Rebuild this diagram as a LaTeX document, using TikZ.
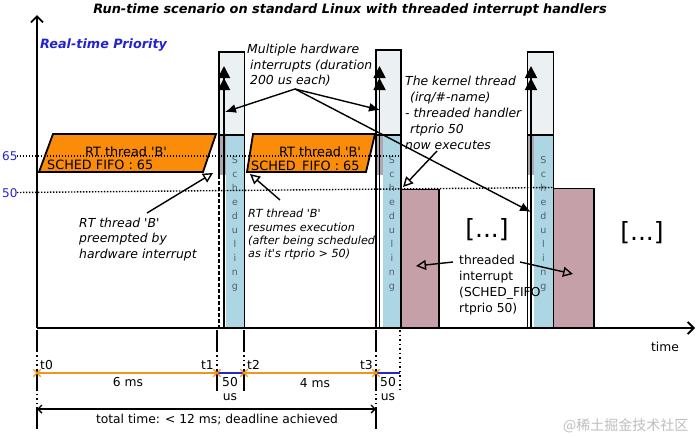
\documentclass[tikz,border=0pt]{standalone}
\usepackage{fontspec}
\setmainfont{DejaVu Sans}
\newfontfamily\cjkfont{Noto Sans CJK SC}
\usetikzlibrary{arrows.meta,shapes.misc}
\definecolor{orng}{RGB}{250,140,10}
\definecolor{schedblue}{RGB}{173,214,229}
\definecolor{stip}{RGB}{235,240,242}
\definecolor{hwgray}{RGB}{176,168,176}
\definecolor{pinkish}{RGB}{198,160,168}
\definecolor{prioblue}{RGB}{35,35,210}
\definecolor{tlorange}{RGB}{240,150,30}
\definecolor{tlblue}{RGB}{40,40,200}
\definecolor{schedtext}{RGB}{85,95,105}
\definecolor{wm}{RGB}{190,190,190}
\tikzset{
  lbl/.style={inner sep=0pt, font=\fontsize{12.3}{14}\selectfont},
  blbl/.style={inner sep=0pt, font=\fontsize{12.8}{14}\selectfont},
  ilbl/.style={inner sep=0pt, font=\fontsize{12.4}{14}\selectfont\itshape},
  slbl/.style={inner sep=0pt, font=\fontsize{11.2}{13}\selectfont\itshape},
  boxline/.style={line width=1.8pt},
  fillarrow/.style={line width=1.4pt, -{Latex[length=11pt,width=9pt]}},
  openarrow/.style={line width=1.4pt, -{Triangle[open,length=10pt,width=10pt]}},
  hwarrow/.style={line width=1.8pt, -{Triangle[length=12pt,width=12pt]Triangle[length=12pt,width=12pt]}},
  axisline/.style={line width=1.8pt, -{Straight Barb[length=6pt,width=12pt]}},
  prioline/.style={line width=1.4pt, dash pattern=on 1.4pt off 1.6pt},
  tickline/.style={line width=1.6pt, dash pattern=on 22pt off 3pt on 1.5pt off 3pt on 1.5pt off 3pt on 1.5pt off 3pt},
  schedtxt/.style={inner sep=0pt, align=center, text=schedtext, font=\fontsize{9.5}{14}\selectfont},
  prio/.style={inner sep=0pt, text=prioblue, font=\fontsize{12}{14}\selectfont},
  xmark/.style={draw=tlorange, cross out, minimum size=6pt, inner sep=0pt, line width=1.3pt},
}
\begin{document}
\begin{tikzpicture}[x=1pt,y=-1pt]
\useasboundingbox (0,0) rectangle (698,437);

% title
\node[anchor=base, inner sep=0pt, font=\fontsize{12.9}{14}\selectfont\bfseries\itshape] (title) at (350,13) {Run-time scenario on standard Linux with threaded interrupt handlers};
\node[anchor=base west, inner sep=0pt, text=prioblue, font=\fontsize{12.8}{14}\selectfont\bfseries\itshape] (rtp) at (40,48) {Real-time Priority};
\node[prio, anchor=base west] (p65) at (2,160) {65};
\node[prio, anchor=base west] (p50) at (2,197) {50};

% RT thread B (orange parallelograms)
\draw[boxline, fill=orng] (39,172) -- (203,172) -- (216,134) -- (53,134) -- cycle;
\draw[boxline, fill=orng] (247,172) -- (366,172) -- (375,134) -- (253,134) -- cycle;
\node[blbl, anchor=base] (rtb1) at (126,156) {RT thread \textquotesingle B\textquotesingle};
\node[blbl, anchor=base west] (sf1) at (47,169) {SCHED FIFO : 65};
\node[blbl, anchor=base] (rtb2) at (320,156) {RT thread \textquotesingle B\textquotesingle};
\node[blbl, anchor=base west] (sf2) at (251,170) {SCHED\_FIFO : 65};

% Multiple hardware text
\node[ilbl, anchor=base west] (mh1) at (247,53) {Multiple hardware};
\node[ilbl, anchor=base west] (mh2) at (250,69) {interrupts (duration};
\node[ilbl, anchor=base west] (mh3) at (250,84) {200 us each)};

% pink threaded handler boxes
\draw[boxline, fill=pinkish] (401,189.5) rectangle (439,328);
\draw[boxline, fill=pinkish] (553.5,188.5) rectangle (594,328);

% interrupt bars
\foreach \L/\A/\B/\R/\T/\n in {219/224/225.5/244.5/52/1, 376/379.5/383/401/50/2, 527.5/531/533.5/553.5/52/3}{
  \fill[stip] (\L,\T) rectangle (\R,135);
  \fill[hwgray] (\L,135) rectangle (\B,175);
  \fill[schedblue] (\B,135) rectangle (\R,328);
  \draw[boxline] (\L,175) -- (\L,\T) -- (\R,\T) -- (\R,328);
  \draw[boxline] (\L,135) -- (\R,135);
  \node[schedtxt, anchor=north] (sch\n) at ({(\B+\R)/2},156) {S\\c\\h\\e\\d\\u\\l\\i\\n\\g};
  \draw[hwarrow] (\A,328) -- (\A,66);
}
\draw[boxline, dash pattern=on 4pt off 2pt] (219,175) -- (219,328);
\draw[boxline] (376,175) -- (376,328);
\draw[boxline] (527.5,175) -- (527.5,328);

% axes
\coordinate (origin) at (37,328);
\coordinate (ytop) at (37,15);
\coordinate (xend) at (695,328);
\draw[axisline] (origin) -- (ytop);
\draw[axisline] (origin) -- (xend);
\node[lbl, anchor=base] (timelbl) at (665,351) {time};

% arrows from "Multiple hardware"
\coordinate (mhsrc) at (295,89);
\coordinate (hw1) at (225,112);
\coordinate (hw2) at (380,110);
\coordinate (hw3) at (531,212);
\draw[fillarrow] (mhsrc) -- (hw1);
\draw[fillarrow] (mhsrc) -- (hw2);
\draw[fillarrow] (mhsrc) -- (hw3);

% kernel thread text
\node[ilbl, anchor=base west] (k1) at (405,85) {The kernel thread};
\node[ilbl, anchor=base west] (k2) at (410,101) {(irq/\#-name)};
\node[ilbl, anchor=base west] (k3) at (405,117) {- threaded handler};
\node[ilbl, anchor=base west] (k4) at (410,133) {rtprio 50};
\node[ilbl, anchor=base west] (k5) at (405,149) {now executes};
\coordinate (ksrc) at (437,151);
\coordinate (ktgt) at (403,187);
\draw[openarrow] (ksrc) -- (ktgt);

% preempted text
\node[ilbl, anchor=base west] (pr1) at (79,227) {RT thread \textquotesingle B\textquotesingle};
\node[ilbl, anchor=base west] (pr2) at (79,242) {preempted by};
\node[ilbl, anchor=base west] (pr3) at (79,258) {hardware interrupt};
\coordinate (prsrc) at (147,213);
\coordinate (prtgt) at (213,173);
\draw[openarrow] (prsrc) -- (prtgt);

% resumes text
\node[slbl, anchor=base west] (rs1) at (248,217) {RT thread \textquotesingle B\textquotesingle};
\node[slbl, anchor=base west] (rs2) at (248,231) {resumes execution};
\node[slbl, anchor=base west] (rs3) at (248,244) {(after being scheduled};
\node[slbl, anchor=base west] (rs4) at (248,257) {as it\textquotesingle s rtprio > 50)};
\coordinate (rssrc) at (280,200);
\coordinate (rstgt) at (250,174);
\draw[openarrow] (rssrc) -- (rstgt);

% [...] marks
\node[inner sep=0pt, font=\fontsize{25}{27}\selectfont] (dots1) at (487,230) {[...]};
\node[inner sep=0pt, font=\fontsize{25}{27}\selectfont] (dots2) at (642,233) {[...]};

% threaded interrupt text
\node[lbl, anchor=base west] (ti1) at (459,264) {threaded};
\node[lbl, anchor=base west] (ti2) at (459,280) {interrupt};
\node[lbl, anchor=base west] (ti3) at (459,296) {(SCHED\_FIFO};
\node[lbl, anchor=base west] (ti4) at (459,312) {rtprio 50)};
\coordinate (tisrcl) at (453,262);
\coordinate (titgtl) at (416,266);
\coordinate (tisrcr) at (520,262);
\coordinate (titgtr) at (573,274);
\draw[openarrow] (tisrcl) -- (titgtl);
\draw[openarrow] (tisrcr) -- (titgtr);

% priority dotted lines
\draw[prioline] (17,156) -- (402,156);
\draw[prioline] (17,192.5) -- (553,187.5);

% timeline
\coordinate (t0) at (37,373);
\coordinate (t1) at (217,373);
\coordinate (t2) at (244,373);
\coordinate (t3) at (376,373);
\coordinate (t4) at (400,373);
\draw[tickline] (37,330) -- (37,431);
\draw[tickline] (217,330) -- (217,393);
\draw[tickline] (244,330) -- (244,393);
\draw[tickline] (376,330) -- (376,431);
\draw[line width=1.6pt, dash pattern=on 1.5pt off 3pt] (400,330) -- (400,393);
\draw[tlorange, line width=1.8pt] (t0) -- (t1);
\draw[tlorange, line width=1.8pt] (t2) -- (t3);
\draw[tlblue, line width=1.8pt] (t1) -- (t2);
\draw[tlblue, line width=1.8pt] (t3) -- (t4);
\node[xmark] (x0) at (t0) {};
\node[xmark] (x1) at (t1) {};
\node[xmark] (x2) at (t2) {};
\node[xmark] (x3) at (t3) {};
\node[lbl, anchor=base west] (lt0) at (40,369) {t0};
\node[lbl, anchor=base east] (lt1) at (214,369) {t1};
\node[lbl, anchor=base west] (lt2) at (247,369) {t2};
\node[lbl, anchor=base east] (lt3) at (373,369) {t3};
\node[lbl, anchor=base] (d6) at (128,386) {6 ms};
\node[lbl, anchor=base] (d4) at (315,387) {4 ms};
\node[lbl, anchor=base] (d50a) at (230,386) {50};
\node[lbl, anchor=base] (dusa) at (230,400) {us};
\node[lbl, anchor=base] (d50b) at (388,386) {50};
\node[lbl, anchor=base] (dusb) at (388,400) {us};
\coordinate (tt0) at (37,409);
\coordinate (tt1) at (376,409);
\draw[line width=1.4pt, {Straight Barb[length=4pt,width=8pt]}-{Straight Barb[length=4pt,width=8pt]}] (tt0) -- (tt1);
\node[lbl, anchor=base] (total) at (217,423) {total time: < 12 ms; deadline achieved};

% watermark
\node[anchor=base west, inner sep=0pt, text=wm, font=\cjkfont\fontsize{14}{16}\selectfont] (wmark) at (563,430) {@稀土掘金技术社区};
\end{tikzpicture}
\end{document}
